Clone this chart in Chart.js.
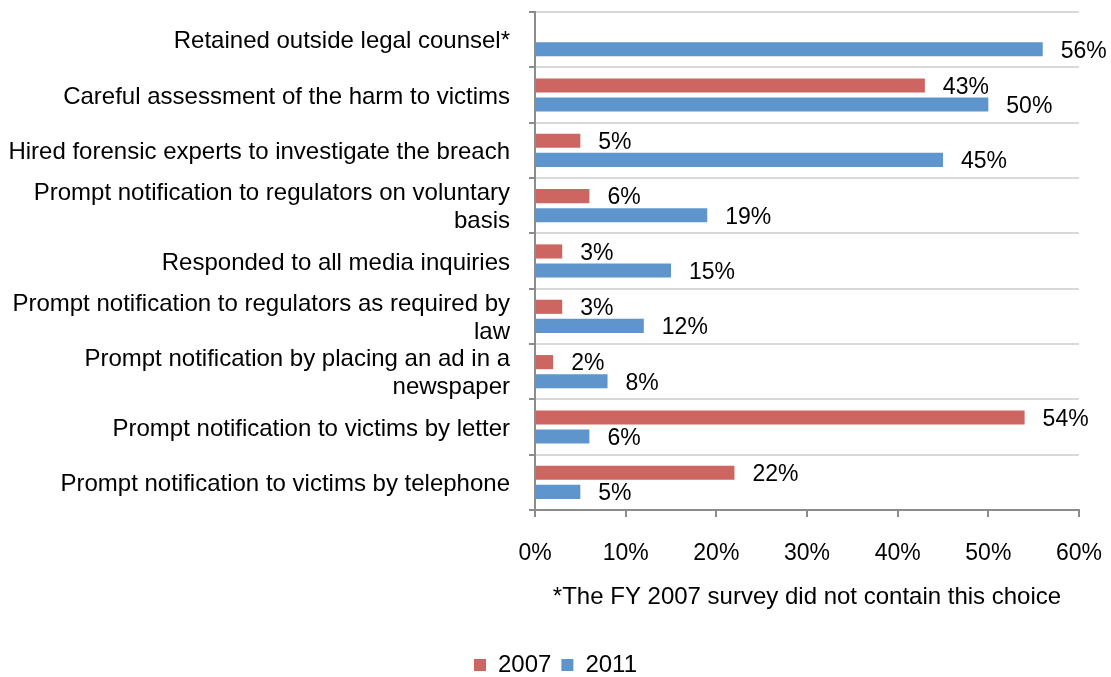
<!DOCTYPE html>
<html>
<head>
<meta charset="utf-8">
<script src="https://cdn.jsdelivr.net/npm/chart.js@4.4.0/dist/chart.umd.min.js"></script>
<style>
  html, body { margin: 0; padding: 0; background: #fff; }
  #wrap { width: 1111px; height: 677px; }
</style>
</head>
<body>
<div id="wrap"><canvas id="breachChart" width="1111" height="677"></canvas></div>
<script>
// Response actions taken after a data breach, share of companies by survey year
const categories = [
    "Retained outside legal counsel*",
    "Careful assessment of the harm to victims",
    "Hired forensic experts to investigate the breach",
    ["Prompt notification to regulators on voluntary", "basis"],
    "Responded to all media inquiries",
    ["Prompt notification to regulators as required by", "law"],
    ["Prompt notification by placing an ad in a", "newspaper"],
    "Prompt notification to victims by letter",
    "Prompt notification to victims by telephone"
];
const values2007 = [null, 43, 5, 6, 3, 3, 2, 54, 22];
const values2011 = [56, 50, 45, 19, 15, 12, 8, 6, 5];
const xTicks = [0, 10, 20, 30, 40, 50, 60];
const footnote = "*The FY 2007 survey did not contain this choice";

const family = "'Liberation Sans', Arial, sans-serif";
const textFont = { family: family, size: 24 };
const numberFont = { family: family, size: 23 };

// Writes the percentage just past the end of each bar
const valueLabels = {
    id: "valueLabels",
    afterDatasetsDraw(chart) {
        const ctx = chart.ctx;
        ctx.save();
        ctx.font = numberFont.size + "px " + family;
        ctx.fillStyle = "#000";
        ctx.textAlign = "left";
        ctx.textBaseline = "middle";
        chart.data.datasets.forEach((ds, i) => {
            const meta = chart.getDatasetMeta(i);
            meta.data.forEach((bar, j) => {
                const v = ds.data[j];
                if (v === null) return;
                ctx.fillText(v + "%", bar.x + 18, bar.y + 2);
            });
        });
        ctx.restore();
    }
};

const breachChart = new Chart(document.getElementById("breachChart").getContext("2d"), {
    type: "bar",
    data: {
        labels: categories,
        datasets: [{
            label: "2007",
            data: values2007,
            backgroundColor: "#CD6560",
            borderWidth: 0,
            categoryPercentage: 0.69,
            barPercentage: 0.74
        }, {
            label: "2011",
            data: values2011,
            backgroundColor: "#5E95CC",
            borderWidth: 0,
            categoryPercentage: 0.69,
            barPercentage: 0.74
        }]
    },
    options: {
        indexAxis: "y",
        responsive: false,
        animation: false,
        layout: { padding: { top: 12, right: 0, bottom: -10, left: 0 } },
        scales: {
            y: {
                grid: {
                    offset: true,
                    color: "#D9D9D9",
                    tickColor: "#8C8C8C",
                    tickLength: 6,
                    lineWidth: 2
                },
                border: { color: "#8C8C8C", width: 2 },
                ticks: {
                    color: "#000",
                    font: Object.assign({ lineHeight: 1.17 }, textFont),
                    padding: 19,
                    labelOffset: 2,
                    autoSkip: false
                },
                afterFit(scale) {
                    scale.width = 535;
                    scale.paddingTop = 0;
                    scale.paddingBottom = 0;
                }
            },
            x: {
                min: 0,
                max: 60,
                afterBuildTicks(scale) {
                    scale.ticks = xTicks.map(v => ({ value: v }));
                },
                grid: {
                    drawOnChartArea: false,
                    tickColor: "#8C8C8C",
                    tickLength: 7,
                    lineWidth: 2
                },
                border: { color: "#8C8C8C", width: 2 },
                ticks: {
                    color: "#000",
                    font: numberFont,
                    padding: 23,
                    callback: v => v + "%"
                },
                title: {
                    display: true,
                    text: footnote,
                    color: "#000",
                    font: textFont,
                    padding: { top: 20, bottom: 31 }
                },
                afterFit(scale) {
                    scale.height = 133;
                    scale.paddingLeft = 0;
                    scale.paddingRight = 32;
                }
            }
        },
        plugins: {
            legend: {
                position: "bottom",
                labels: {
                    boxWidth: 12,
                    boxHeight: 12,
                    padding: 10,
                    color: "#000",
                    font: textFont
                }
            },
            tooltip: { enabled: false }
        }
    },
    plugins: [valueLabels]
});
</script>
</body>
</html>
